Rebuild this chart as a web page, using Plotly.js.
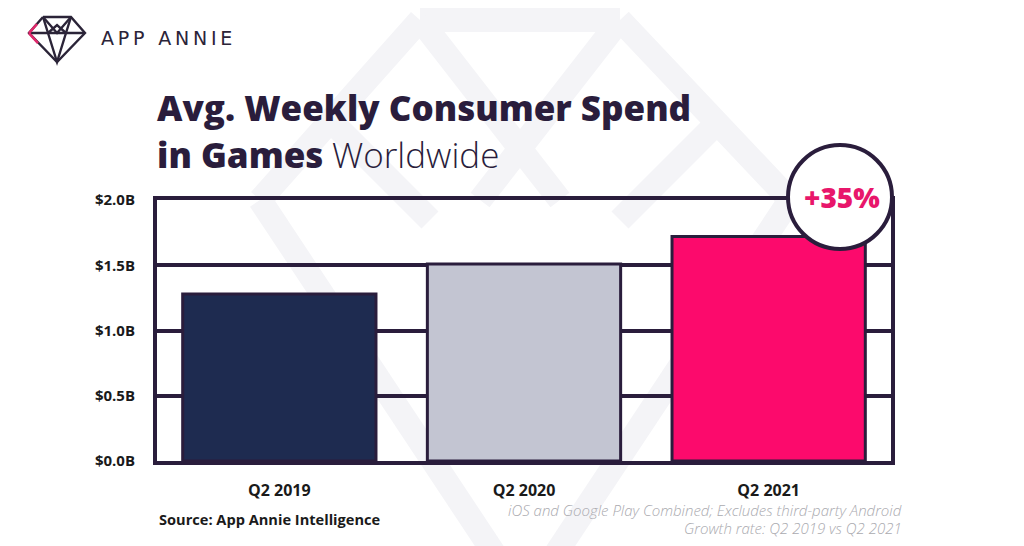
<!DOCTYPE html>
<html>
<head>
<meta charset="utf-8">
<script src="https://cdn.plot.ly/plotly-3.0.1.min.js"></script>
<style>html,body{margin:0;padding:0;background:#fff;}#chart{width:1024px;height:546px;}</style>
</head>
<body>
<div id="chart"></div>
<script>
// ---- data ----
const categories = ["Q2 2019", "Q2 2020", "Q2 2021"];
const spendBillions = [1.28, 1.51, 1.72];
const barColors = ["#1e2b50", "#c3c5d2", "#fc0a6c"];
const yTickValues = [0, 0.5, 1.0, 1.5, 2.0];
const yTickLabels = ["$0.0B", "$0.5B", "$1.0B", "$1.5B", "$2.0B"];
const growthLabel = "+35%";

const W = 1024, H = 546;
const M = {l: 157, r: 133, t: 200, b: 85};
const PW = W - M.l - M.r, PH = H - M.t - M.b;
const px = x => (x - M.l) / PW;
const py = y => (H - M.b - y) / PH;
const dark = "#2a1d3c";

function pathPx(pts, close) {
  return pts.map((p, i) => (i ? "L" : "M") + px(p[0]).toFixed(4) + "," + py(p[1]).toFixed(4)).join(" ") + (close ? " Z" : "");
}

const shapes = [];
// faint watermark diamond
const wm = "#f4f4f7";
[
  [[420, 20], [620, 20]],
  [[420, 20], [260, 200]],
  [[620, 20], [790, 200]],
  [[260, 200], [525, 600]],
  [[790, 200], [525, 600]],
  [[420, 20], [560, 200]],
  [[620, 20], [480, 200]],
  [[330, 120], [430, 220]],
  [[720, 120], [620, 220]]
].forEach(seg => shapes.push({type: "path", xref: "paper", yref: "paper", layer: "below",
  path: pathPx(seg, false), line: {color: wm, width: 24}}));

// logo diamond
const logoSegs = [
  [[43, 17], [71, 17], [85, 33], [57, 62], [29, 33], [43, 17]],
  [[29, 33], [85, 33]],
  [[43, 17], [48, 33], [57, 62], [66, 33], [71, 17]],
  [[43, 17], [57, 33], [71, 17]],
  [[48, 33], [57, 25], [66, 33]]
];
logoSegs.forEach(seg => shapes.push({type: "path", xref: "paper", yref: "paper",
  path: pathPx(seg, false), line: {color: "#2b2438", width: 2.4}}));
shapes.push({type: "path", xref: "paper", yref: "paper", path: pathPx([[29, 33], [37, 24]], false), line: {color: "#e0286b", width: 2.6}});
shapes.push({type: "path", xref: "paper", yref: "paper", path: pathPx([[29, 33], [38, 43]], false), line: {color: "#e0286b", width: 2.6}});

// growth circle
shapes.push({type: "circle", xref: "paper", yref: "paper",
  x0: px(788), x1: px(892), y0: py(249), y1: py(145),
  fillcolor: "#ffffff", line: {color: dark, width: 4}, layer: "above"});

const sp = "\u2009";
const annotations = [
  {xref: "paper", yref: "paper", x: px(99), y: py(38), xanchor: "left", yanchor: "middle", showarrow: false,
   text: "APP ANNIE".split("").join(sp), font: {family: "DejaVu Sans, sans-serif", size: 19, color: "#2b2438"}},
  {xref: "paper", yref: "paper", x: px(155), y: py(107), xanchor: "left", yanchor: "middle", showarrow: false,
   text: "Avg. Weekly Consumer Spend", font: {family: "Open Sans, sans-serif", size: 35, color: dark, weight: 800}},
  {xref: "paper", yref: "paper", x: px(155), y: py(154), xanchor: "left", yanchor: "middle", showarrow: false,
   text: "in Games", font: {family: "Open Sans, sans-serif", size: 35, color: dark, weight: 800}},
  {xref: "paper", yref: "paper", x: px(330), y: py(154), xanchor: "left", yanchor: "middle", showarrow: false,
   text: "Worldwide", font: {family: "Open Sans, sans-serif", size: 35, color: dark, weight: 300}},
  {xref: "paper", yref: "paper", x: px(842), y: py(197), xanchor: "center", yanchor: "middle", showarrow: false,
   text: growthLabel, font: {family: "Open Sans, sans-serif", size: 28, color: "#e8166b", weight: 800}},
  {xref: "paper", yref: "paper", x: px(157), y: py(519), xanchor: "left", yanchor: "middle", showarrow: false,
   text: "<b>Source: App Annie Intelligence</b>", font: {family: "Open Sans, sans-serif", size: 14.6, color: "#1a1a1a"}},
  {xref: "paper", yref: "paper", x: px(904), y: py(510), xanchor: "right", yanchor: "middle", showarrow: false,
   text: "<i>iOS and Google Play Combined; Excludes third-party Android</i>", font: {family: "Open Sans, sans-serif", size: 15, color: "#aaaaaf", weight: 300}},
  {xref: "paper", yref: "paper", x: px(904), y: py(528), xanchor: "right", yanchor: "middle", showarrow: false,
   text: "<i>Growth rate: Q2 2019 vs Q2 2021</i>", font: {family: "Open Sans, sans-serif", size: 15, color: "#aaaaaf", weight: 300}}
];

const trace = {
  type: "bar", x: categories, y: spendBillions,
  marker: {color: barColors, line: {color: dark, width: 3}},
  width: 0.79, hoverinfo: "skip"
};

const layout = {
  width: W, height: H,
  margin: M,
  paper_bgcolor: "#ffffff", plot_bgcolor: "rgba(0,0,0,0)",
  showlegend: false,
  xaxis: {
    type: "category", range: [-0.5, 2.5], showgrid: false, zeroline: false,
    showline: true, linecolor: dark, linewidth: 4, mirror: true,
    ticks: "", ticklabelstandoff: 12,
    tickfont: {family: "Open Sans, sans-serif", size: 16, color: "#1a1a1a", weight: 700}
  },
  yaxis: {
    range: [0, 2.0], tickvals: yTickValues, ticktext: yTickLabels,
    showgrid: true, gridcolor: dark, gridwidth: 4, zeroline: false,
    showline: true, linecolor: dark, linewidth: 4, mirror: true,
    ticks: "", ticklabelstandoff: 15,
    tickfont: {family: "Open Sans, sans-serif", size: 15, color: "#1a1a1a", weight: 700}
  },
  shapes: shapes,
  annotations: annotations
};

Plotly.newPlot("chart", [trace], layout, {displayModeBar: false, staticPlot: true});
</script>
</body>
</html>
